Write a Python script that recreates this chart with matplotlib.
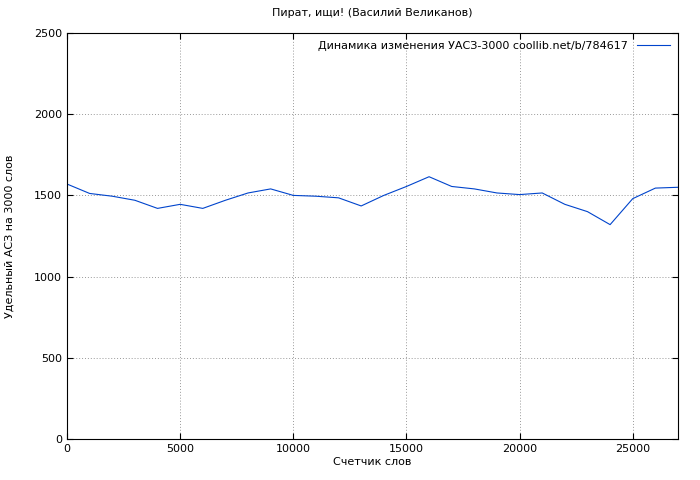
import matplotlib
matplotlib.use("Agg")
import matplotlib.pyplot as plt

x = list(range(0, 28000, 1000))
y = [1570, 1512, 1495, 1470, 1420, 1445, 1420, 1470, 1515, 1540, 1500, 1495, 1485, 1435,
     1500, 1555, 1615, 1555, 1540, 1515, 1505, 1515, 1445, 1400, 1320, 1480, 1545, 1550]

plt.rcParams['font.size'] = 8
fig = plt.figure(figsize=(7, 4.8), dpi=100)
ax = fig.add_axes([67/700, 1-439/480, (678-67)/700, (439-33)/480])
ax.plot(x, y, color='#0044cc', lw=0.8, label='Динамика изменения УАСЗ-3000 coollib.net/b/784617')
ax.set_xlim(0, 27000)
ax.set_ylim(0, 2500)
ax.set_xticks(range(0, 27000, 5000))
ax.set_yticks(range(0, 2501, 500))
ax.grid(True, color='#999999', ls=(0, (1, 2)), lw=0.7)
ax.tick_params(direction='in', length=4, top=True, right=True)
ax.set_xlabel('Счетчик слов', labelpad=2)
ax.set_ylabel('Удельный АСЗ на 3000 слов', labelpad=14)
ax.set_title('Пират, ищи! (Василий Великанов)', pad=12, fontsize=8)
ax.legend(loc='upper right', frameon=False, markerfirst=False, handlelength=3, borderaxespad=0.3)
fig.savefig('out.png')
